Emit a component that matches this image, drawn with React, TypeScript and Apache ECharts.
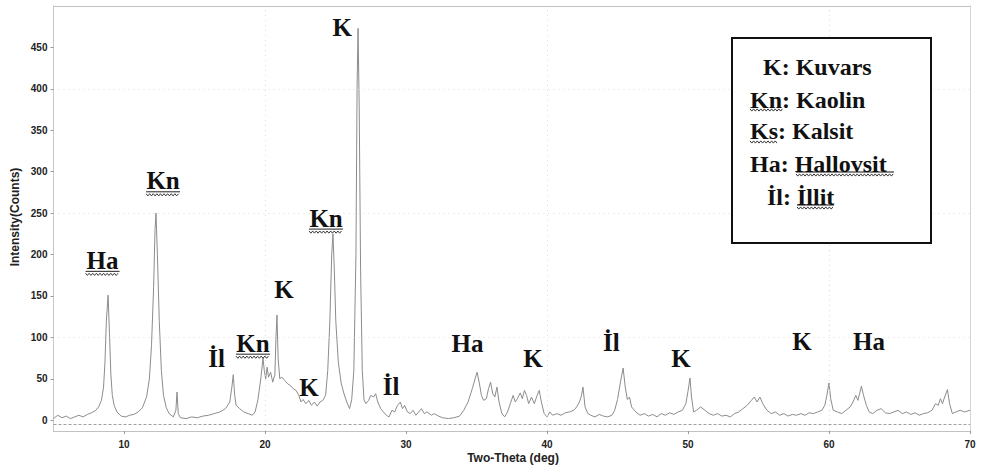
import React, { useEffect, useRef } from "react";
import * as echarts from "echarts";

// Two-theta positions (deg) and measured intensities (counts)
const twoTheta = [
  5.0, 5.3, 5.6, 5.9, 6.2, 6.5, 6.8, 7.1, 7.4, 7.7,
  8.0, 8.2, 8.4, 8.55, 8.65, 8.75, 8.87, 8.97, 9.07, 9.17,
  9.3, 9.5, 9.8, 10.1, 10.4, 10.7, 11.0, 11.3, 11.6, 11.8,
  11.95, 12.1, 12.2, 12.27, 12.37, 12.5, 12.65, 12.8, 13.0, 13.2,
  13.5, 13.68, 13.76, 13.85, 14.0, 14.4, 14.8, 15.2, 15.6, 16.0,
  16.4, 16.8, 17.2, 17.5, 17.65, 17.75, 17.85, 17.95, 18.2, 18.5,
  18.8, 19.1, 19.3, 19.5, 19.7, 19.86, 19.95, 20.05, 20.15, 20.25,
  20.4, 20.55, 20.7, 20.78, 20.85, 20.93, 21.05, 21.2, 21.4, 21.6,
  21.8, 22.0, 22.2, 22.4, 22.55, 22.7, 22.9, 23.1, 23.3, 23.5,
  23.7, 23.9, 24.1, 24.3, 24.45, 24.6, 24.73, 24.82, 24.92, 25.02,
  25.2, 25.4, 25.6, 25.8, 26.0, 26.15, 26.3, 26.45, 26.53, 26.6,
  26.68, 26.78, 26.9, 27.02, 27.15, 27.35, 27.5, 27.7, 27.85, 28.0,
  28.2, 28.4, 28.6, 28.8, 29.0, 29.2, 29.4, 29.6, 29.75, 29.9,
  30.1, 30.3, 30.5, 30.7, 30.9, 31.1, 31.3, 31.5, 31.8, 32.0,
  32.3, 32.6, 33.0, 33.4, 33.8, 34.1, 34.4, 34.7, 34.9, 35.04,
  35.2, 35.35, 35.5, 35.7, 35.85, 36.0, 36.15, 36.3, 36.45, 36.6,
  36.8, 37.0, 37.2, 37.4, 37.6, 37.75, 37.9, 38.1, 38.25, 38.4,
  38.55, 38.7, 38.9, 39.1, 39.3, 39.45, 39.6, 39.8, 40.0, 40.2,
  40.4, 40.7, 41.0, 41.3, 41.6, 41.9, 42.1, 42.3, 42.45, 42.55,
  42.7, 42.9, 43.1, 43.4, 43.7, 44.0, 44.3, 44.6, 44.8, 45.0,
  45.2, 45.4, 45.55, 45.7, 45.85, 46.0, 46.3, 46.6, 46.9, 47.2,
  47.5, 47.8, 48.1, 48.4, 48.7, 49.0, 49.3, 49.6, 49.85, 50.0,
  50.14, 50.25, 50.4, 50.6, 50.9, 51.2, 51.5, 51.8, 52.1, 52.4,
  52.7, 53.0, 53.3, 53.6, 53.9, 54.2, 54.5, 54.7, 54.9, 55.1,
  55.3, 55.6, 55.9, 56.2, 56.5, 56.8, 57.1, 57.4, 57.7, 58.0,
  58.3, 58.6, 58.9, 59.2, 59.5, 59.7, 59.85, 60.0, 60.12, 60.3,
  60.6, 60.9, 61.2, 61.5, 61.7, 61.9, 62.05, 62.3, 62.45, 62.65,
  62.85, 63.1, 63.4, 63.7, 64.0, 64.3, 64.6, 64.9, 65.2, 65.5,
  65.8, 66.1, 66.4, 66.7, 67.0, 67.3, 67.55, 67.75, 67.9, 68.05,
  68.2, 68.4, 68.55, 68.75, 69.0, 69.3, 69.6, 70.0,
];
const counts = [
  2, 6, 3, 5, 2, 4, 6, 4, 7, 9,
  12, 16, 24, 40, 70, 120, 151, 105, 55, 30,
  18, 10, 5, 4, 6, 7, 10, 15, 28, 50,
  90, 160, 230, 250, 200, 120, 60, 30, 15, 8,
  4, 12, 34, 8, 3, 2, 4, 3, 5, 6,
  8, 10, 14, 22, 40, 55, 30, 18, 14, 10,
  8, 6, 10, 25, 50, 75, 60, 50, 64, 52,
  58, 46, 55, 100, 127, 75, 50, 52, 48, 44,
  42, 38, 36, 30, 22, 25, 20, 24, 18, 22,
  17, 22, 24, 30, 60, 120, 200, 225, 180, 120,
  70, 45, 32, 22, 14, 25, 60, 200, 400, 473,
  380, 180, 60, 25, 20, 24, 30, 28, 32, 22,
  14, 10, 6, 4, 12, 10, 18, 22, 14, 18,
  10, 8, 12, 6, 10, 14, 8, 10, 6, 8,
  5, 3, 2, 3, 5, 12, 22, 38, 50, 58,
  45, 30, 24, 26, 38, 46, 32, 28, 40, 22,
  8, 4, 10, 20, 30, 22, 26, 33, 26, 36,
  30, 20, 28, 20, 30, 36, 22, 8, 4, 10,
  6, 8, 6, 9, 10, 12, 16, 22, 30, 40,
  16, 8, 6, 4, 7, 5, 4, 6, 12, 25,
  45, 63, 40, 25, 28, 16, 10, 6, 8, 5,
  7, 4, 8, 6, 9, 7, 10, 12, 20, 35,
  51, 28, 10, 12, 16, 12, 8, 6, 8, 5,
  6, 4, 8, 10, 14, 18, 24, 28, 22, 28,
  20, 12, 8, 10, 6, 8, 5, 7, 6, 8,
  6, 9, 8, 10, 12, 18, 30, 45, 26, 12,
  10, 8, 12, 16, 22, 30, 24, 41, 30, 18,
  10, 8, 12, 14, 9, 8, 10, 12, 8, 10,
  7, 9, 6, 8, 9, 12, 20, 18, 26, 20,
  28, 37, 20, 8, 10, 12, 10, 12,
];

// Axis ticks
const xTicks = [10, 20, 30, 40, 50, 60, 70];
const yTicks = [0, 50, 100, 150, 200, 250, 300, 350, 400, 450];
const yGridLines = [100, 250, 400];
const xGridLines = [20, 40, 60];

// Peak annotations (phase symbol, position in data coords, underlined?)
const peakLabels = ["Ha", "Kn", "İl", "Kn", "K", "K", "Kn", "K", "İl", "Ha", "K", "İl", "K", "K", "Ha"];
const peakLabelX = [8.48, 12.77, 16.57, 19.15, 21.35, 23.12, 24.33, 25.47, 28.94, 34.36, 39.0, 44.57, 49.5, 58.08, 62.83];
const peakLabelY = [193, 289, 75, 93, 158, 40, 244, 474, 41, 93, 74, 94, 75, 95, 95];
const peakLabelUnderlined = [true, true, false, true, false, false, true, false, false, false, false, false, false, false, false];

// Legend box entries
const legendSymbols = ["K", "Kn", "Ks", "Ha", "İl"];
const legendNames = ["Kuvars", "Kaolin", "Kalsit", "Hallovsit", "İllit"];
const legendSymbolWavy = [false, true, true, false, false];
const legendNameWavy = [false, false, false, true, true];

function wavyPoints(x0: number, x1: number, y: number) {
  const pts: number[][] = [];
  let up = true;
  for (let x = x0; x <= x1; x += 1.8) {
    pts.push([x, y + (up ? -1.1 : 1.1)]);
    up = !up;
  }
  return pts;
}

export default function App() {
  const ref = useRef<HTMLDivElement>(null);
  useEffect(() => {
    if (!ref.current) return;
    const chart = echarts.init(ref.current, null, { renderer: "svg" });
    const data = twoTheta.map((x, i) => [x, counts[i]]);
    const tickFont = { fontFamily: "Arial, 'Liberation Sans'", fontSize: 10, fontWeight: "bold" as const, color: "#222" };
    chart.setOption({
      animation: false,
      backgroundColor: "#fff",
      grid: { left: 53.5, right: 13, top: 6, bottom: 41, show: false },
      xAxis: [
        {
          type: "value",
          min: 5,
          max: 70,
          axisLine: { show: true, onZero: false, lineStyle: { color: "#bbb", type: "dotted", width: 1 } },
          axisTick: { show: true, length: 3, customValues: xTicks, lineStyle: { color: "#999" } },
          axisLabel: { customValues: xTicks, margin: 8, ...tickFont },
          splitLine: { show: false },
        },
        {
          type: "value",
          position: "top",
          min: 5,
          max: 70,
          axisLine: { show: true, onZero: false, lineStyle: { color: "#bbb", type: "dotted", width: 1 } },
          axisTick: { show: false },
          axisLabel: { show: false },
          splitLine: { show: false },
        },
      ],
      yAxis: [
        {
          type: "value",
          min: -13,
          max: 500,
          axisLine: { show: true, onZero: false, lineStyle: { color: "#bbb", type: "dotted", width: 1 } },
          axisTick: { show: true, length: 3, customValues: yTicks, lineStyle: { color: "#999" } },
          axisLabel: { customValues: yTicks, margin: 6, ...tickFont },
          splitLine: { show: false },
        },
        {
          type: "value",
          position: "right",
          min: -13,
          max: 500,
          axisLine: { show: true, onZero: false, lineStyle: { color: "#ccc", type: "dotted", width: 1 } },
          axisTick: { show: false },
          axisLabel: { show: false },
          splitLine: { show: false },
        },
      ],
      series: [
        {
          type: "line",
          data,
          xAxisIndex: 0,
          yAxisIndex: 0,
          symbol: "none",
          smooth: false,
          lineStyle: { color: "#8c8c8c", width: 1 },
          markLine: {
            silent: true,
            symbol: "none",
            label: { show: false },
            lineStyle: { color: "#dcdcdc", type: [1, 4], width: 1 },
            data: [
              ...yGridLines.map((v) => ({ yAxis: v })),
              ...xGridLines.map((v) => ({ xAxis: v })),
              { yAxis: -5, lineStyle: { color: "#a0a0a0", type: [3, 2], width: 1 } },
            ],
          },
        },
      ],
    });

    const graphics: any[] = [];
    const serif = "'Liberation Serif', 'Times New Roman', serif";
    peakLabels.forEach((t, i) => {
      const p = chart.convertToPixel({ gridIndex: 0 }, [peakLabelX[i], peakLabelY[i]]) as number[];
      graphics.push({
        type: "text",
        x: p[0],
        y: p[1],
        style: { text: t, align: "center", verticalAlign: "middle", fill: "#111", fontFamily: serif, fontSize: 25, fontWeight: "bold" },
        z: 10,
      });
      if (peakLabelUnderlined[i]) {
        const w = 34;
        graphics.push({
          type: "line",
          shape: { x1: p[0] - w / 2, y1: p[1] + 11, x2: p[0] + w / 2, y2: p[1] + 11 },
          style: { stroke: "#222", lineWidth: 1 },
          z: 10,
        });
        graphics.push({
          type: "polyline",
          shape: { points: wavyPoints(p[0] - w / 2, p[0] + w / 2, p[1] + 14) },
          style: { stroke: "#222", lineWidth: 0.9, fill: null },
          z: 10,
        });
      }
    });

    // Legend box
    graphics.push({
      type: "rect",
      shape: { x: 732, y: 38, width: 199, height: 205 },
      style: { fill: "#fff", stroke: "#111", lineWidth: 2 },
      z: 20,
    });
    const legendX = [763, 750, 750, 750, 767];
    const legendY = [67, 99.5, 131, 163.5, 197];
    legendSymbols.forEach((s, i) => {
      graphics.push({
        type: "text",
        x: legendX[i],
        y: legendY[i],
        style: {
          text: s + ": " + legendNames[i],
          align: "left",
          verticalAlign: "middle",
          fill: "#111",
          fontFamily: serif,
          fontSize: 24,
          fontWeight: "bold",
        },
        z: 21,
      });
    });
    // underline decorations in the legend
    const legendDecor = [
      { x0: 750, x1: 783, y: 107, wavy: 110, i: 1 },
      { x0: 750, x1: 778, y: 139, wavy: 142, i: 2 },
      { x0: 796, x1: 894, y: 172, wavy: 175, i: 3 },
      { x0: 797, x1: 834, y: 205, wavy: 208, i: 4 },
    ];
    legendDecor.forEach((d) => {
      if (legendNameWavy[d.i]) {
        graphics.push({
          type: "line",
          shape: { x1: d.x0, y1: d.y, x2: d.x1, y2: d.y },
          style: { stroke: "#111", lineWidth: 1 },
          z: 21,
        });
      }
      if (legendSymbolWavy[d.i] || legendNameWavy[d.i]) {
        graphics.push({
          type: "polyline",
          shape: { points: wavyPoints(d.x0, d.x1, d.wavy) },
          style: { stroke: "#222", lineWidth: 0.9, fill: null },
          z: 21,
        });
      }
    });

    // Axis titles
    graphics.push({
      type: "text",
      x: 513,
      y: 458,
      style: {
        text: "Two-Theta (deg)",
        align: "center",
        verticalAlign: "middle",
        fill: "#222",
        fontFamily: "Arial, 'Liberation Sans'",
        fontSize: 12,
        fontWeight: "bold",
      },
    });
    graphics.push({
      type: "text",
      x: 15,
      y: 217,
      rotation: Math.PI / 2,
      style: {
        text: "Intensity(Counts)",
        align: "center",
        verticalAlign: "middle",
        fill: "#222",
        fontFamily: "Arial, 'Liberation Sans'",
        fontSize: 12,
        fontWeight: "bold",
      },
    });

    chart.setOption({ graphic: graphics });
    return () => chart.dispose();
  }, []);
  return <div ref={ref} style={{ position: "fixed", left: 0, top: 0, width: 983, height: 472 }} />;
}
